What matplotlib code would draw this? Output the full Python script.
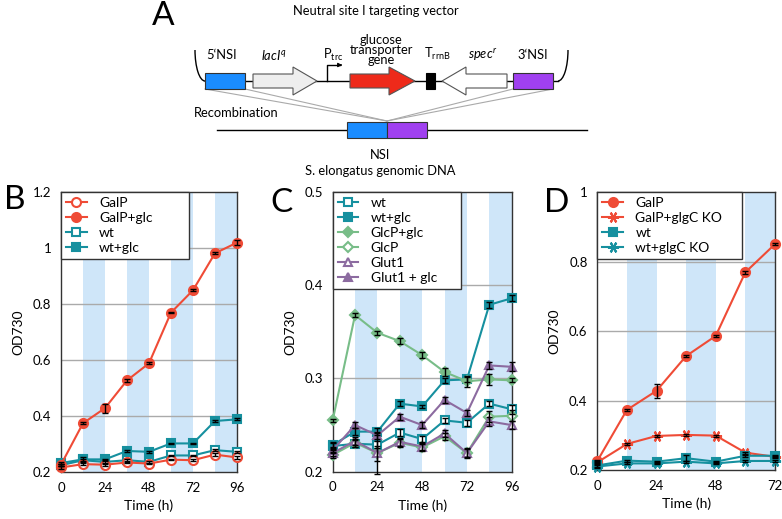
import numpy as np
import matplotlib.pyplot as plt
from matplotlib.patches import Rectangle, Polygon, Arc

plt.rcParams['font.family'] = ['Lato', 'DejaVu Sans']
plt.rcParams['mathtext.fontset'] = 'custom'
plt.rcParams['mathtext.rm'] = 'Lato'
plt.rcParams['mathtext.it'] = 'Lato:italic'

# ---- data (OD730 vs time) ----
t96 = [0, 12, 24, 36, 48, 60, 72, 84, 96]
t72 = [0, 12, 24, 36, 48, 60, 72]

# panel B
b_galp = [0.216, 0.228, 0.226, 0.234, 0.230, 0.244, 0.242, 0.262, 0.252]
b_galp_glc = [0.226, 0.374, 0.428, 0.527, 0.588, 0.769, 0.849, 0.981, 1.019]
b_wt = [0.224, 0.242, 0.236, 0.242, 0.236, 0.259, 0.259, 0.278, 0.272]
b_wt_glc = [0.232, 0.245, 0.245, 0.275, 0.272, 0.302, 0.302, 0.382, 0.388]
b_galp_err = [0.004, 0.003, 0.003, 0.003, 0.003, 0.003, 0.003, 0.004, 0.004]
b_galp_glc_err = [0.004, 0.004, 0.016, 0.004, 0.003, 0.003, 0.003, 0.003, 0.008]
b_wt_err = [0.003, 0.004, 0.003, 0.003, 0.003, 0.003, 0.003, 0.003, 0.003]
b_wt_glc_err = [0.004, 0.008, 0.003, 0.003, 0.003, 0.003, 0.003, 0.003, 0.003]

# panel C
c_wt = [0.2275, 0.230, 0.229, 0.242, 0.235, 0.255, 0.2525, 0.273, 0.267]
c_wt_glc = [0.2286, 0.243, 0.243, 0.273, 0.270, 0.298, 0.299, 0.379, 0.386]
c_glcp_glc = [0.255, 0.368, 0.349, 0.340, 0.325, 0.307, 0.297, 0.299, 0.298]
c_glcp = [0.218, 0.231, 0.220, 0.231, 0.226, 0.238, 0.220, 0.259, 0.260]
c_glut1 = [0.220, 0.233, 0.220, 0.232, 0.227, 0.241, 0.220, 0.254, 0.250]
c_glut1_glc = [0.223, 0.250, 0.239, 0.259, 0.250, 0.277, 0.263, 0.314, 0.3125]
c_wt_err = [0.003, 0.004, 0.004, 0.004, 0.003, 0.003, 0.003, 0.003, 0.005]
c_wt_glc_err = [0.003, 0.004, 0.004, 0.003, 0.002, 0.003, 0.003, 0.003, 0.003]
c_glcp_glc_err = [0.002, 0.002, 0.002, 0.003, 0.003, 0.004, 0.006, 0.006, 0.002]
c_glcp_err = [0.003, 0.004, 0.008, 0.004, 0.004, 0.004, 0.005, 0.006, 0.006]
c_glut1_err = [0.003, 0.004, 0.022, 0.004, 0.004, 0.004, 0.004, 0.005, 0.004]
c_glut1_glc_err = [0.003, 0.003, 0.004, 0.003, 0.003, 0.003, 0.003, 0.004, 0.005]

# panel D
d_galp = [0.226, 0.373, 0.428, 0.528, 0.586, 0.769, 0.850]
d_galp_ko = [0.222, 0.275, 0.298, 0.301, 0.299, 0.250, 0.238]
d_wt = [0.213, 0.227, 0.224, 0.234, 0.224, 0.241, 0.241]
d_wt_ko = [0.210, 0.219, 0.219, 0.224, 0.219, 0.226, 0.226]
d_galp_err = [0.004, 0.003, 0.020, 0.004, 0.003, 0.004, 0.003]
d_galp_ko_err = [0.003, 0.003, 0.003, 0.003, 0.003, 0.003, 0.003]
d_wt_err = [0.003, 0.003, 0.003, 0.008, 0.003, 0.003, 0.003]
d_wt_ko_err = [0.003, 0.003, 0.003, 0.003, 0.003, 0.003, 0.003]

red = '#ef4b36'
teal = '#16909f'
green = '#78bd88'
purple = '#8c6ba0'
band = '#cfe6f9'
edge = '#333333'

fig = plt.figure(figsize=(7.82, 5.19), dpi=100)


def make_axes(rect, ymin, ymax, yticks, ylabels, xmax):
    ax = fig.add_axes(rect)
    ax.set_xlim(0, xmax)
    ax.set_ylim(ymin, ymax)
    for s in range(12, xmax, 24):
        ax.axvspan(s, s + 12, color=band, lw=0, zorder=0)
    for y in yticks[1:-1]:
        ax.axhline(y, color='#aaaaaa', lw=1, zorder=0.5)
    ax.set_yticks(yticks)
    ax.set_yticklabels(ylabels)
    ax.set_xticks(range(0, xmax + 1, 24))
    ax.tick_params(length=0, labelsize=9.5, pad=7)
    for sp in ax.spines.values():
        sp.set_color(edge)
        sp.set_linewidth(1)
    ax.set_xlabel('Time (h)', fontsize=10, labelpad=4)
    ax.set_ylabel('OD730', fontsize=10, labelpad=6)
    return ax


def series(ax, t, y, err, color, marker, filled, label, ms=6.5, lw=1.5):
    ax.plot(t, y, color=color, marker=marker, ms=ms, lw=lw,
            mfc=color if filled else 'white', mec=color, mew=1.5,
            label=label, clip_on=False, zorder=3)
    ax.errorbar(t, y, yerr=err, fmt='none', ecolor='black', elinewidth=1,
                capsize=2, capthick=1, zorder=4, clip_on=False)


def legend(ax, frac, order=None):
    h, l = ax.get_legend_handles_labels()
    if order:
        h = [h[i] for i in order]
        l = [l[i] for i in order]
    lg = ax.legend(h, l, loc='upper left', bbox_to_anchor=(0, 0, frac, 1),
                   mode='expand', borderaxespad=0, fancybox=False,
                   framealpha=1, edgecolor=edge, fontsize=10,
                   handlelength=1.5, handletextpad=0.9, labelspacing=0.22,
                   borderpad=0.35)
    lg.get_frame().set_linewidth(1)
    lg.set_zorder(6)


star = (6, 2, 90)

# B
axB = make_axes([0.078, 0.0906, 0.225, 0.5395], 0.2, 1.2,
                [0.2, 0.4, 0.6, 0.8, 1.0, 1.2],
                ['0.2', '0.4', '0.6', '0.8', '1', '1.2'], 96)
series(axB, t96, b_wt, b_wt_err, teal, 's', False, 'wt', ms=6)
series(axB, t96, b_wt_glc, b_wt_glc_err, teal, 's', True, 'wt+glc', ms=6)
series(axB, t96, b_galp, b_galp_err, red, 'o', False, 'GalP')
series(axB, t96, b_galp_glc, b_galp_glc_err, red, 'o', True, 'GalP+glc')
legend(axB, 0.73, order=[2, 3, 0, 1])

# C
axC = make_axes([0.4254, 0.0911, 0.2289, 0.539], 0.2, 0.5,
                [0.2, 0.3, 0.4, 0.5], ['0.2', '0.3', '0.4', '0.5'], 96)
series(axC, t96, c_wt, c_wt_err, teal, 's', False, 'wt', ms=6)
series(axC, t96, c_wt_glc, c_wt_glc_err, teal, 's', True, 'wt+glc', ms=6)
series(axC, t96, c_glcp_glc, c_glcp_glc_err, green, 'D', True, 'GlcP+glc', ms=5)
series(axC, t96, c_glcp, c_glcp_err, green, 'D', False, 'GlcP', ms=5)
series(axC, t96, c_glut1, c_glut1_err, purple, '^', False, 'Glut1', ms=6)
series(axC, t96, c_glut1_glc, c_glut1_glc_err, purple, '^', True, 'Glut1 + glc', ms=6)
legend(axC, 0.715)

# D
axD = make_axes([0.7638, 0.0944, 0.2272, 0.5356], 0.2, 1.0,
                [0.2, 0.4, 0.6, 0.8, 1.0],
                ['0.2', '0.4', '0.6', '0.8', '1'], 72)
series(axD, t72, d_galp, d_galp_err, red, 'o', True, 'GalP')
series(axD, t72, d_galp_ko, d_galp_ko_err, red, star, False, 'GalP+glgC KO', ms=8)
series(axD, t72, d_wt, d_wt_err, teal, 's', True, 'wt', ms=6)
series(axD, t72, d_wt_ko, d_wt_ko_err, teal, star, False, 'wt+glgC KO', ms=8)
legend(axD, 0.815)

# ---- panel A diagram + panel letters (pixel coordinates) ----
ov = fig.add_axes([0, 0, 1, 1], zorder=-1)
ov.set_xlim(0, 782)
ov.set_ylim(519, 0)
ov.axis('off')
ov.patch.set_alpha(0)

for letter, x, y in [('A', 163, 16), ('B', 15, 200), ('C', 281, 203), ('D', 557, 203)]:
    ov.text(x, y, letter, fontsize=24, ha='center', va='center')


def block_arrow(x_tail, x_tip, head_len, yc, hb, hh, fc):
    d = 1 if x_tip > x_tail else -1
    xb = x_tip - d * head_len
    pts = [(x_tail, yc - hb), (xb, yc - hb), (xb, yc - hh), (x_tip, yc),
           (xb, yc + hh), (xb, yc + hb), (x_tail, yc + hb)]
    ov.add_patch(Polygon(pts, closed=True, fc=fc, ec='#555555', lw=0.8, zorder=3))


yc = 81
ov.plot([205, 558], [yc, yc], color='black', lw=1, zorder=1)
# y axis is flipped here, so the arc angles run the other way
ov.add_patch(Arc((205, 50), 20, 62, theta1=90, theta2=180, color='black', lw=1))
ov.add_patch(Arc((558, 50), 20, 62, theta1=0, theta2=90, color='black', lw=1))
ov.add_patch(Rectangle((205, 73), 40, 16, fc='#1a8cff', ec='#333333', lw=0.8, zorder=3))
block_arrow(253, 317, 24, yc, 7, 14, '#eeeeee')
block_arrow(350, 415, 26, yc, 7, 14, '#ee2a1a')
ov.add_patch(Rectangle((426, 73), 9, 16, fc='black', ec='black', lw=0.8, zorder=3))
block_arrow(507, 442, 24, yc, 7, 14, 'white')
ov.add_patch(Rectangle((513, 73), 40, 16, fc='#a040f0', ec='#333333', lw=0.8, zorder=3))
# promoter arrow
ov.plot([327, 327, 340], [yc, 65, 65], color='black', lw=1)
ov.annotate('', xy=(345, 65), xytext=(338, 65),
            arrowprops=dict(arrowstyle='-|>', color='black', lw=0.8,
                            mutation_scale=6))

# recombination lines
for x0 in [205, 245, 513, 553]:
    ov.plot([x0, 387], [89, 121], color='#aaaaaa', lw=0.8, zorder=0)
ov.plot([217, 587], [130, 130], color='black', lw=1, zorder=1)
ov.add_patch(Rectangle((347, 122), 40, 16, fc='#1a8cff', ec='#333333', lw=0.8, zorder=3))
ov.add_patch(Rectangle((387, 122), 40, 16, fc='#a040f0', ec='#333333', lw=0.8, zorder=3))

fs = 9.3
ov.text(376, 11, 'Neutral site I targeting vector', fontsize=fs, ha='center', va='center')
ov.text(222, 55, '5\u2018NSI', fontsize=fs, ha='center', va='center')
ov.text(274, 55, '$lacI^q$', fontsize=fs, ha='center', va='center')
ov.text(333, 55, 'P$_{\\mathrm{trc}}$', fontsize=fs, ha='center', va='center')
ov.text(381, 50, 'glucose\ntransporter\ngene', fontsize=fs, ha='center', va='center',
        linespacing=0.8)
ov.text(437, 54, 'T$_{\\mathrm{rrnB}}$', fontsize=fs, ha='center', va='center')
ov.text(483, 55, '$spec^r$', fontsize=fs, ha='center', va='center')
ov.text(533, 55, '3\u2018NSI', fontsize=fs, ha='center', va='center')
ov.text(236, 113, 'Recombination', fontsize=fs, ha='center', va='center')
ov.text(380, 155, 'NSI', fontsize=fs, ha='center', va='center')
ov.text(380, 171, 'S. elongatus genomic DNA', fontsize=fs, ha='center', va='center')

fig.savefig('out.png', dpi=100)
